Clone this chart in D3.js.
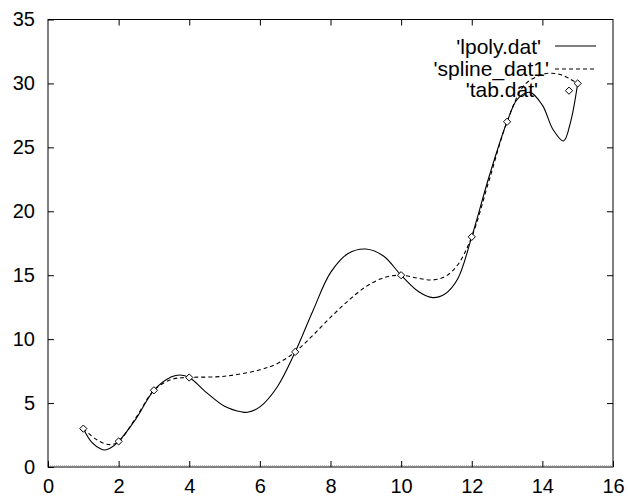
<!DOCTYPE html>
<html>
<head>
<meta charset="utf-8">
<script src="https://cdn.jsdelivr.net/npm/d3@7"></script>
<style>
  html, body { margin: 0; padding: 0; background: #fff; }
  svg { display: block; }
  text { font-family: "Liberation Sans", Arial, Helvetica, sans-serif; fill: #000; }
</style>
</head>
<body>
<svg id="chart" width="628" height="497"></svg>
<script>
// ---- data ----
const xTicks = [0, 2, 4, 6, 8, 10, 12, 14, 16];
const yTicks = [0, 5, 10, 15, 20, 25, 30, 35];

// tab.dat (points)
const tabX = [1, 2, 3, 4, 7, 10, 12, 13, 15];
const tabY = [3, 2, 6, 7, 9, 15, 18, 27, 30];

// lpoly.dat (solid curve)
const lpolyX = [1, 1.25, 1.5, 1.62, 1.78, 2, 2.5, 3, 3.5, 3.75, 4, 4.5, 5, 5.5, 5.65, 6, 6.5, 7, 7.5, 8, 8.5, 9, 9.5, 10, 10.5, 10.9, 11.25, 11.6, 12, 12.5, 13, 13.3, 13.65, 14, 14.3, 14.6, 14.8, 15];
const lpolyY = [3, 1.9, 1.4, 1.33, 1.5, 2, 3.8, 6, 7.05, 7.2, 7.0, 5.8, 4.75, 4.3, 4.28, 4.7, 6.3, 9, 12.2, 15.2, 16.7, 17.05, 16.5, 15, 13.7, 13.25, 13.55, 14.7, 18, 22.8, 27, 28.8, 29.3, 28.3, 26.4, 25.5, 27, 30];

// spline_dat1 (dashed curve)
const splineX = [1, 1.4, 1.75, 2, 2.5, 3, 3.5, 4, 5, 6, 6.5, 7, 7.5, 8, 8.5, 9, 9.5, 10, 10.5, 10.9, 11.25, 11.6, 12, 12.5, 13, 13.5, 14, 14.25, 14.5, 14.75, 15];
const splineY = [3, 2.1, 1.75, 2, 3.9, 6, 6.85, 7, 7.1, 7.6, 8.1, 9, 10.3, 11.7, 13, 14.1, 14.8, 15, 14.75, 14.63, 14.9, 15.8, 18, 22.5, 27, 29.9, 30.7, 30.8, 30.7, 30.4, 30];

const legendLabels = ["'lpoly.dat'", "'spline_dat1'", "'tab.dat'"];

// ---- drawing ----
const svg = d3.select("#chart");
const x = d3.scaleLinear().domain([0, 16]).range([48, 613]);
const y = d3.scaleLinear().domain([0, 35]).range([467, 19.5]);
const L = 48, R = 613, T = 19.5, B = 467;

// frame
svg.append("rect").attr("x", L).attr("y", T).attr("width", R - L).attr("height", B - T)
  .attr("fill", "none").attr("stroke", "#000").attr("stroke-width", 1);
// dotted zero axis
svg.append("line").attr("x1", x(0)).attr("x2", x(16)).attr("y1", y(0) - 1).attr("y2", y(0) - 1)
  .attr("stroke", "#888").attr("stroke-dasharray", "1,1");

// axes with inward ticks
const tl = 6;
svg.append("g").attr("transform", `translate(0,${B})`)
  .call(d3.axisBottom(x).tickValues(xTicks).tickSizeInner(-tl).tickSizeOuter(0).tickPadding(12))
  .call(g => g.select(".domain").remove());
svg.append("g").attr("transform", `translate(0,${T})`)
  .call(d3.axisTop(x).tickValues(xTicks.slice(1, -1)).tickSizeInner(-tl).tickSizeOuter(0).tickFormat(""))
  .call(g => g.select(".domain").remove());
svg.append("g").attr("transform", `translate(${L},0)`)
  .call(d3.axisLeft(y).tickValues(yTicks).tickSizeInner(-tl).tickSizeOuter(0).tickPadding(13))
  .call(g => g.select(".domain").remove());
svg.append("g").attr("transform", `translate(${R},0)`)
  .call(d3.axisRight(y).tickValues(yTicks.slice(1, -1)).tickSizeInner(-tl).tickSizeOuter(0).tickFormat(""))
  .call(g => g.select(".domain").remove());
svg.selectAll(".tick line").attr("stroke", "#000");
svg.selectAll(".tick text").attr("font-size", 20).attr("font-family", "Liberation Sans, Arial, sans-serif").attr("fill", "#000");

// curves
const lineGen = (xs, ys) => d3.line().x(d => x(d[0])).y(d => y(d[1])).curve(d3.curveCatmullRom.alpha(0.5))(xs.map((v, i) => [v, ys[i]]));

svg.append("path").attr("d", lineGen(lpolyX, lpolyY))
  .attr("fill", "none").attr("stroke", "#000").attr("stroke-width", 1.1);
svg.append("path").attr("d", lineGen(splineX, splineY))
  .attr("fill", "none").attr("stroke", "#000").attr("stroke-width", 1.1).attr("stroke-dasharray", "4,3");

// diamonds
const diamond = (cx, cy, r) => `M${cx},${cy - r}L${cx + r},${cy}L${cx},${cy + r}L${cx - r},${cy}Z`;
svg.append("g").selectAll("path").data(tabX.map((v, i) => [v, tabY[i]])).join("path")
  .attr("d", d => diamond(x(d[0]), y(d[1]), 3.6))
  .attr("fill", "#fff").attr("stroke", "#000").attr("stroke-width", 1);

// legend
const lg = svg.append("g");
const textRight = [541, 549, 538];
const rowY = [47, 69, 90];
legendLabels.forEach((lab, i) => {
  lg.append("text").attr("x", textRight[i]).attr("y", rowY[i] + 7)
    .attr("text-anchor", "end").attr("font-size", 21).text(lab);
});
lg.append("line").attr("x1", 555).attr("x2", 596).attr("y1", 46).attr("y2", 46)
  .attr("stroke", "#000").attr("stroke-width", 1.1);
lg.append("line").attr("x1", 555).attr("x2", 596).attr("y1", 69).attr("y2", 69)
  .attr("stroke", "#000").attr("stroke-width", 1.1).attr("stroke-dasharray", "4,3");
lg.append("path").attr("d", diamond(569, 90.7, 3.6))
  .attr("fill", "#fff").attr("stroke", "#000").attr("stroke-width", 1);
</script>
</body>
</html>
